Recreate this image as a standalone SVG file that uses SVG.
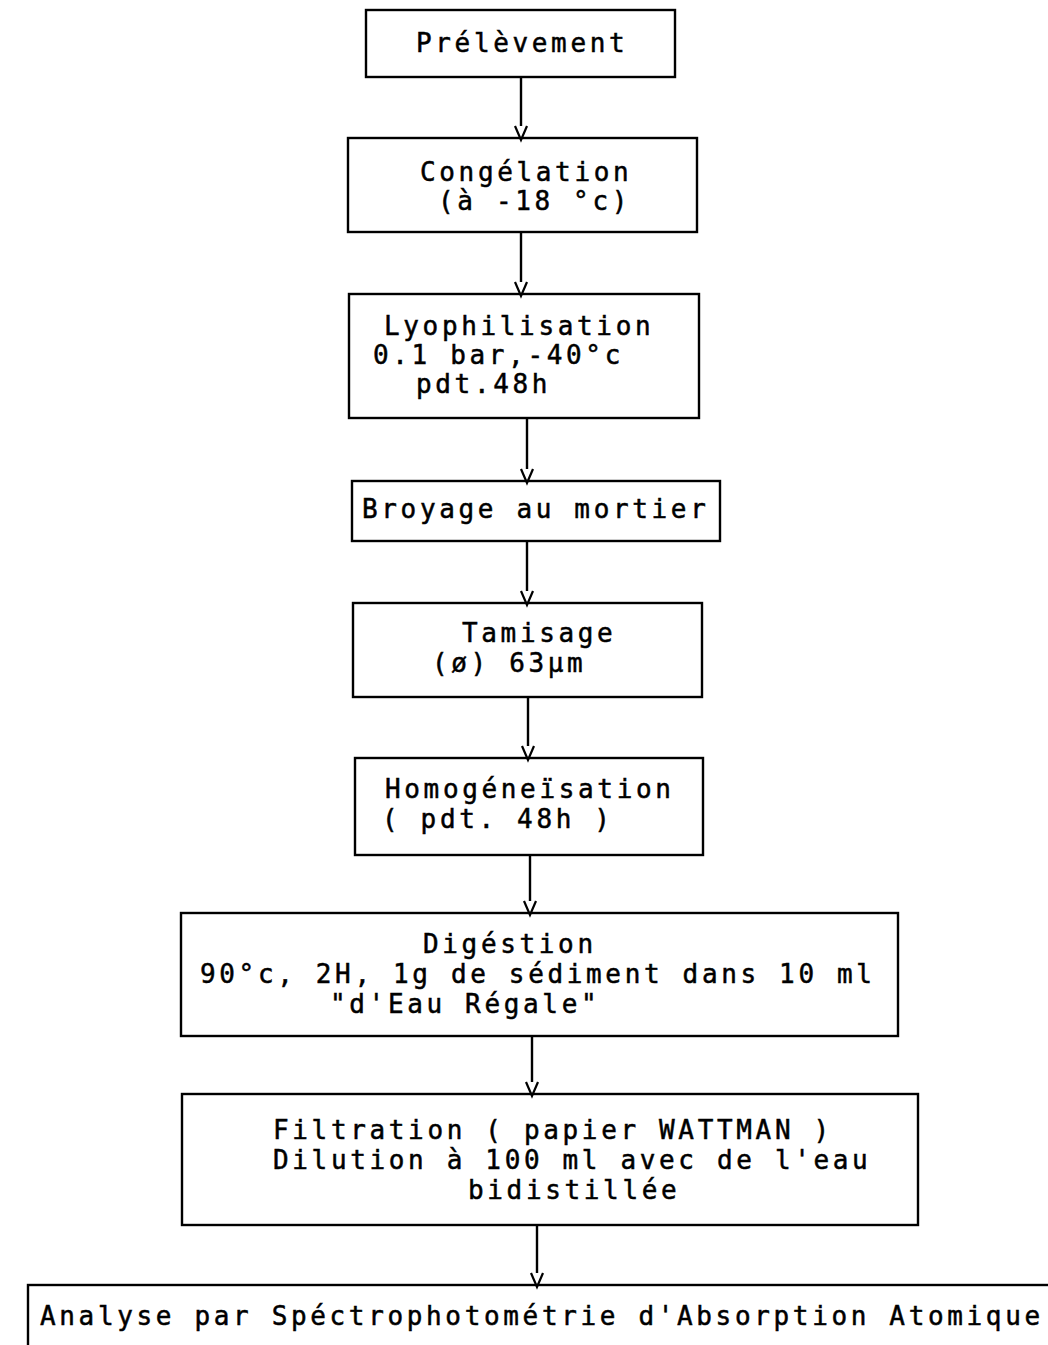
<svg xmlns="http://www.w3.org/2000/svg" width="1048" height="1345" viewBox="0 0 1048 1345">
<style>
  .box { fill: none; stroke: #000; stroke-width: 2.4; }
  .t { font-family: "DejaVu Sans Mono", "Liberation Mono", monospace; font-size: 26px; letter-spacing: 3.65px; fill: #000; stroke: #000; stroke-width: 0.5px; }
  .c { stroke: #000; stroke-width: 2.4; fill: none; }
  .v { stroke: #000; stroke-width: 2.2; fill: none; }
</style>
<rect width="1048" height="1345" fill="#fff"/>
<g id="connectors">
  <line class="c" x1="521" y1="78" x2="521" y2="126"/>
  <polyline class="v" points="515,126 521,140 527,126"/>
  <line class="c" x1="521" y1="232" x2="521" y2="282"/>
  <polyline class="v" points="515,282 521,296 527,282"/>
  <line class="c" x1="527" y1="418" x2="527" y2="469"/>
  <polyline class="v" points="521,469 527,483 533,469"/>
  <line class="c" x1="527" y1="541" x2="527" y2="591"/>
  <polyline class="v" points="521,591 527,605 533,591"/>
  <line class="c" x1="528" y1="697" x2="528" y2="746"/>
  <polyline class="v" points="522,746 528,760 534,746"/>
  <line class="c" x1="530" y1="855" x2="530" y2="901"/>
  <polyline class="v" points="524,901 530,915 536,901"/>
  <line class="c" x1="532" y1="1036" x2="532" y2="1082"/>
  <polyline class="v" points="526,1082 532,1096 538,1082"/>
  <line class="c" x1="537" y1="1225" x2="537" y2="1273"/>
  <polyline class="v" points="531,1273 537,1287 543,1273"/>
</g>
<g id="n1">
  <rect class="box" x="366" y="10" width="309" height="67"/>
  <text class="t" x="416" y="52">Prélèvement</text>
</g>
<g id="n2">
  <rect class="box" x="348" y="138" width="349" height="94"/>
  <text class="t" x="420" y="181">Congélation</text>
  <text class="t" x="438" y="210">(à -18 °c)</text>
</g>
<g id="n3">
  <rect class="box" x="349" y="294" width="350" height="124"/>
  <text class="t" x="384" y="335">Lyophilisation</text>
  <text class="t" x="373" y="364">0.1 bar,-40°c</text>
  <text class="t" x="416" y="393">pdt.48h</text>
</g>
<g id="n4">
  <rect class="box" x="352" y="481" width="368" height="60"/>
  <text class="t" x="362" y="518">Broyage au mortier</text>
</g>
<g id="n5">
  <rect class="box" x="353" y="603" width="349" height="94"/>
  <text class="t" x="462" y="642">Tamisage</text>
  <text class="t" x="432" y="672">(ø) 63µm</text>
</g>
<g id="n6">
  <rect class="box" x="355" y="758" width="348" height="97"/>
  <text class="t" x="385" y="798">Homogéneïsation</text>
  <text class="t" x="382" y="828">( pdt. 48h )</text>
</g>
<g id="n7">
  <rect class="box" x="181" y="913" width="717" height="123"/>
  <text class="t" x="423" y="953">Digéstion</text>
  <text class="t" x="200" y="983">90°c, 2H, 1g de sédiment dans 10 ml</text>
  <text class="t" x="330" y="1013">"d'Eau Régale"</text>
</g>
<g id="n8">
  <rect class="box" x="182" y="1094" width="736" height="131"/>
  <text class="t" x="273" y="1139">Filtration ( papier WATTMAN )</text>
  <text class="t" x="273" y="1169">Dilution à 100 ml avec de l'eau</text>
  <text class="t" x="468" y="1199">bidistillée</text>
</g>
<g id="n9">
  <rect class="box" x="28" y="1285" width="1100" height="100"/>
  <text class="t" x="40" y="1325">Analyse par Spéctrophotométrie d'Absorption Atomique</text>
</g>
</svg>
